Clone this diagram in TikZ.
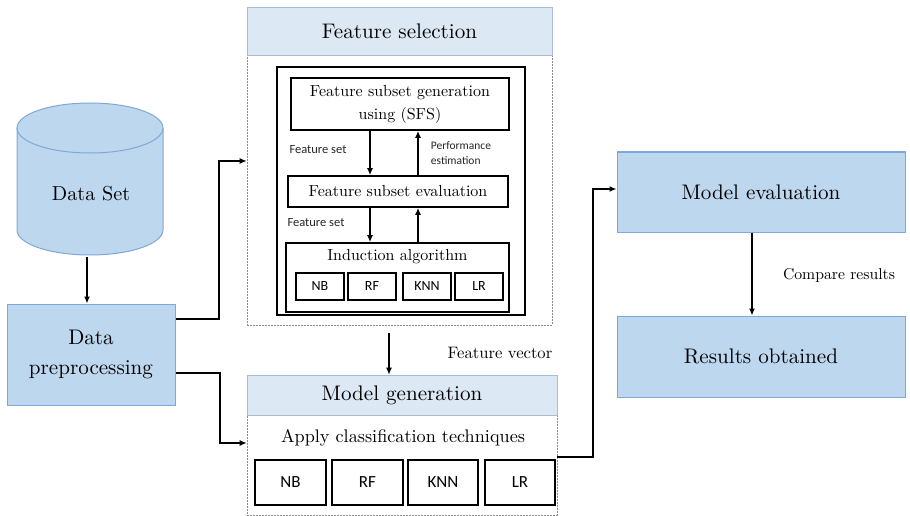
\documentclass[tikz,border=0pt]{standalone}
\usepackage{fontspec}
\setmainfont{lmroman10}[Extension=.otf, UprightFont=*-regular, BoldFont=*-bold, ItalicFont=*-italic]
\newfontfamily\calfont{Carlito}
\usetikzlibrary{arrows.meta}
\definecolor{boxblue}{HTML}{BDD7EE}
\definecolor{boxline}{HTML}{7FA8D8}
\definecolor{headblue}{HTML}{DCE8F4}
\definecolor{headline}{HTML}{A8BCD2}
\definecolor{dashgray}{HTML}{8C8C8C}
\tikzset{
  bluebox/.style={draw=boxline, fill=boxblue, line width=1pt, minimum width=288pt, minimum height=80pt, inner sep=0pt, font=\rmfamily\fontsize{21.1}{30}\selectfont, align=center},
  headbox/.style={draw=headline, fill=headblue, line width=0.8pt, inner sep=0pt, font=\rmfamily\fontsize{21.1}{30}\selectfont},
  dashbox/.style={draw=dashgray, dashed, dash pattern=on 2pt off 1pt, line width=0.6pt, inner sep=0pt},
  blackbox/.style={draw=black, line width=1.8pt, inner sep=0pt, align=center},
  algbox/.style={draw=black, line width=2pt, inner sep=0pt, minimum width=48pt, minimum height=27pt, font=\calfont\fontsize{14}{16}\selectfont},
  algboxb/.style={draw=black, line width=2.2pt, inner sep=0pt, minimum height=45pt, font=\calfont\fontsize{17}{20}\selectfont},
  arr/.style={-{Latex[length=7pt,width=6pt]}, line width=1.3pt},
  smalllab/.style={font=\calfont\fontsize{12.5}{14}\selectfont, text=black!85, inner sep=0pt, align=left},
  serlab/.style={font=\rmfamily\fontsize{16}{21}\selectfont, inner sep=0pt}
}
\begin{document}
\begin{tikzpicture}[x=1pt,y=-1pt]
\useasboundingbox (0,0) rectangle (910,516);

% Data Set cylinder
\fill[boxblue] (17,128) -- (17,230) arc[start angle=180,end angle=360,x radius=73pt,y radius=25pt] -- (163,128) arc[start angle=0,end angle=180,x radius=73pt,y radius=25pt] -- cycle;
\draw[boxline, line width=1pt] (17,128) -- (17,230) arc[start angle=180,end angle=360,x radius=73pt,y radius=25pt] -- (163,128);
\draw[boxline, line width=1pt] (90,128) ellipse[x radius=73pt,y radius=25pt];
\node[font=\rmfamily\fontsize{20.2}{30}\selectfont, inner sep=0pt] (ds) at (91,194) {Data Set};
\coordinate (dsb) at (87,257);

% Data preprocessing
\node[bluebox, minimum width=168pt, minimum height=101pt] (dp) at (91,354.5) {Data\\preprocessing};

% Feature selection
\node[dashbox, minimum width=305pt, minimum height=318pt] (fs) at (399.5,166) {};
\node[headbox, minimum width=305pt, minimum height=48pt] (fsh) at (399.5,31) {Feature selection};
\node[blackbox, minimum width=248pt, minimum height=248pt] (inner) at (401,191) {};
\node[blackbox, minimum width=218pt, minimum height=52pt, font=\rmfamily\fontsize{16}{23}\selectfont] (gen) at (400,104) {Feature subset generation\\using (SFS)};
\node[blackbox, minimum width=220pt, minimum height=31pt, font=\rmfamily\fontsize{16}{21}\selectfont] (eval) at (398,191.5) {Feature subset evaluation};
\node[blackbox, minimum width=223pt, minimum height=69pt] (ind) at (397.5,277.5) {};
\node[serlab] (indl) at (397.5,257) {Induction algorithm};
\node[algbox] (nb1) at (320,286.5) {NB};
\node[algbox] (rf1) at (372,286.5) {RF};
\node[algbox] (knn1) at (427,286.5) {KNN};
\node[algbox] (lr1) at (479,286.5) {LR};

\draw[arr] (gen.south -| 370,0) -- (eval.north -| 370,0);
\draw[arr] (eval.north -| 418,0) -- (gen.south -| 418,0);
\draw[arr] (eval.south -| 370,0) -- (ind.north -| 370,0);
\draw[arr] (ind.north -| 418,0) -- (eval.south -| 418,0);
\node[smalllab] (fs1) at (318,150) {Feature set};
\node[smalllab] (fs2) at (316,223) {Feature set};
\node[smalllab, font=\calfont\fontsize{11.5}{15}\selectfont] (pe) at (461,153) {Performance\\estimation};

% Model generation
\node[dashbox, minimum width=310pt, minimum height=140pt] (mg) at (402,445) {};
\node[headbox, minimum width=310pt, minimum height=40pt] (mgh) at (402,395) {Model generation};
\node[serlab, font=\rmfamily\fontsize{18.2}{23}\selectfont] (act) at (403,438) {Apply classification techniques};
\node[algboxb, minimum width=71pt] (nb2) at (290.5,482.5) {NB};
\node[algboxb, minimum width=71pt] (rf2) at (367.5,482.5) {RF};
\node[algboxb, minimum width=70pt] (knn2) at (443,482.5) {KNN};
\node[algboxb, minimum width=70pt] (lr2) at (520,482.5) {LR};

% Model evaluation / results
\node[bluebox] (me) at (761,192) {Model evaluation};
\node[bluebox, minimum height=81pt] (ro) at (761,356.5) {Results obtained};
\node[serlab, font=\rmfamily\fontsize{15.7}{20}\selectfont] (cr) at (839,275) {Compare results};
\node[serlab, font=\rmfamily\fontsize{16.6}{21}\selectfont] (fv) at (500,353) {Feature vector};

% connectors
\draw[arr] (dsb) -- (dsb |- dp.north);
\draw[arr] ([yshift=35.5pt]dp.east) -- (219,319) -- (219,161) -- ([yshift=5pt]fs.west);
\draw[arr] ([yshift=-18.5pt]dp.east) -- (220,373) -- (220,443) -- ([yshift=2pt]mg.west);
\draw[arr] (389,333) -- (mg.north -| 389,0);
\draw[arr] ([yshift=-12pt]mg.east) -- (593,457) -- (593,189) -- ([yshift=3pt]me.west);
\draw[arr] (me.south -| 752,0) -- (ro.north -| 752,0);
\end{tikzpicture}
\end{document}
